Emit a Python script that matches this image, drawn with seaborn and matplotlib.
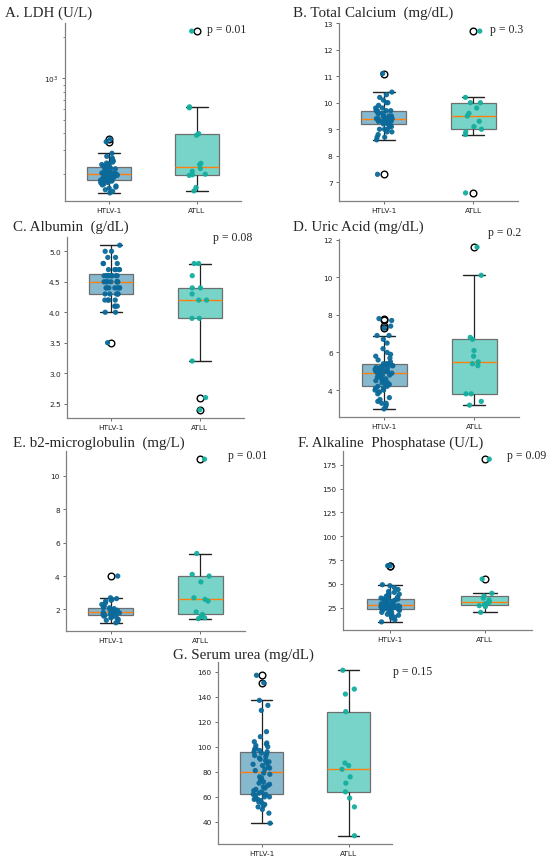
import numpy as np
import pandas as pd
import matplotlib
matplotlib.use('Agg')
import matplotlib.pyplot as plt
import seaborn as sns

groups = ['HTLV-1', 'ATLL']

# A. LDH (U/L)
ldh_htlv = [146, 150, 154, 158, 161, 164, 167, 170, 172, 174, 176, 177, 178, 179, 180, 181, 181,
            182, 183, 184, 185, 186, 187, 188, 189, 190, 192, 193, 194, 196, 197, 199,
            201, 202, 203, 204, 205, 206, 207, 208, 210, 211, 213, 215, 217, 219, 221, 224,
            224, 226, 228, 230, 232, 235, 238, 241, 245, 250, 256, 262, 270, 284, 345, 360]
ldh_atll = [151, 160, 196, 198, 200, 210, 220, 235, 240, 385, 395, 610, 620, 2215]

# B. Total Calcium (mg/dL)
ca_htlv = [7.3, 8.6, 8.7, 8.7, 8.8, 8.9, 8.9, 9.0, 9.0, 9.0, 9.1, 9.1, 9.2, 9.2, 9.2, 9.2,
           9.3, 9.3, 9.3, 9.3, 9.3, 9.3, 9.4, 9.4, 9.4, 9.4, 9.4, 9.4, 9.4,
           9.5, 9.5, 9.5, 9.5, 9.6, 9.6, 9.6, 9.7, 9.7, 9.7, 9.7,
           9.8, 9.8, 9.9, 10.0, 10.0, 10.1, 10.2, 10.3, 10.4, 11.1]
ca_atll = [6.6, 8.8, 8.9, 9.0, 9.1, 9.3, 9.5, 9.6, 9.8, 10.0, 10.0, 10.2, 12.7]

# C. Albumin (g/dL)
alb_htlv = [3.5, 4.0, 4.0, 4.1, 4.1, 4.1, 4.2, 4.2, 4.2, 4.2, 4.3, 4.3, 4.3,
            4.3, 4.3, 4.4, 4.4, 4.4, 4.4, 4.4, 4.4, 4.4, 4.5, 4.5, 4.5, 4.5,
            4.5, 4.5, 4.5, 4.5, 4.6, 4.6, 4.6, 4.6, 4.6, 4.6, 4.6, 4.6, 4.6,
            4.7, 4.7, 4.7, 4.7, 4.7, 4.8, 4.8, 4.8, 4.9, 4.9, 5.0, 5.0, 5.1]
alb_atll = [2.4, 2.6, 3.2, 3.9, 3.9, 4.2, 4.2, 4.3, 4.4, 4.4, 4.6, 4.8, 4.8]

# D. Uric Acid (mg/dL)
uric_htlv = [3.0, 3.1, 3.2, 3.3, 3.3, 3.4, 3.5, 3.6, 3.8, 3.9, 3.9, 4.0, 4.0, 4.1, 4.1, 4.2, 4.2,
             4.3, 4.3, 4.4, 4.4, 4.5, 4.5, 4.6, 4.6, 4.7, 4.7, 4.8, 4.8, 4.8, 4.9, 4.9,
             4.9, 5.0, 5.0, 5.0, 5.0, 5.1, 5.1, 5.1, 5.2, 5.2, 5.2, 5.3, 5.3, 5.3, 5.4, 5.4,
             5.4, 5.5, 5.6, 5.7, 5.8, 5.9, 6.0, 6.2, 6.5, 6.7, 6.9, 6.9, 7.3, 7.4, 7.7, 7.8]
uric_atll = [3.2, 3.4, 3.8, 3.8, 5.3, 5.4, 5.5, 5.8, 6.1, 6.7, 6.8, 10.1, 11.6]

# E. b2-microglobulin (mg/L)
b2m_htlv = [1.2, 1.3, 1.35, 1.4, 1.45, 1.5, 1.55, 1.6, 1.6, 1.65, 1.65, 1.7, 1.7, 1.72,
            1.75, 1.78, 1.8, 1.8, 1.82, 1.83, 1.85, 1.88, 1.9, 1.92, 1.95, 2.0, 2.0,
            2.05, 2.1, 2.1, 2.15, 2.2, 2.3, 2.4, 2.5, 2.55, 2.6, 2.65, 2.7, 4.0]
b2m_atll = [1.45, 1.5, 1.6, 1.7, 1.85, 2.5, 2.6, 2.7, 3.65, 4.0, 4.1, 5.35, 11.0]

# F. Alkaline Phosphatase (U/L)
alp_htlv = [10, 12, 14, 15, 16, 17, 18, 19, 20, 21, 22, 22, 23, 23, 24, 24,
            24, 25, 25, 25, 25, 26, 26, 26, 26, 27, 27, 27, 27, 27,
            28, 28, 28, 29, 29, 30, 30, 31, 31, 32, 32, 33, 33, 34, 34,
            34, 35, 36, 37, 38, 39, 40, 41, 42, 44, 46, 48, 49, 69, 69]
alp_atll = [20, 26, 27, 28, 29, 30, 31, 33, 35, 37, 40, 55, 181]

# G. Serum urea (mg/dL)
urea_htlv = [39, 47, 50, 52, 53, 54, 55, 56, 57, 58, 58, 59, 60, 60, 61, 62, 62,
             63, 64, 65, 66, 67, 68, 69, 70, 71, 72, 74, 75, 76, 78, 79,
             81, 82, 83, 84, 85, 86, 87, 88, 89, 90, 91, 92, 93, 94, 95, 96,
             96, 97, 98, 99, 100, 101, 102, 103, 104, 108, 112, 129, 133, 137, 151, 157]
urea_atll = [29, 52, 59, 64, 71, 76, 82, 85, 87, 128, 142, 146, 161]

titles = ['A. LDH (U/L)', 'B. Total Calcium  (mg/dL)', 'C. Albumin  (g/dL)',
          'D. Uric Acid (mg/dL)', 'E. b2-microglobulin  (mg/L)',
          'F. Alkaline  Phosphatase (U/L)', 'G. Serum urea (mg/dL)']
p_values = ['p = 0.01', 'p = 0.3', 'p = 0.08', 'p = 0.2', 'p = 0.01', 'p = 0.09', 'p = 0.15']

box_colors = {'HTLV-1': '#86b8ce', 'ATLL': '#78d4c8'}
point_colors = {'HTLV-1': '#0b6a9a', 'ATLL': '#14ae9f'}

W, H = 550, 862
# panel layout in pixels: axes (left, top, right, bottom), title xy, p-value xy
panels = [
    ((65, 24, 241, 202), (5, 13), (207, 30)),
    ((339, 24, 518, 202), (293, 13), (490, 30)),
    ((67, 238, 244, 419), (13, 227), (213, 238)),
    ((339, 240, 519, 418), (293, 227), (488, 233)),
    ((66, 452, 245, 632), (13, 443), (228, 456)),
    ((343, 452, 532, 631), (298, 443), (507, 456)),
    ((218, 663, 392, 845), (173, 655), (393, 672)),
]

datasets = [(ldh_htlv, ldh_atll), (ca_htlv, ca_atll), (alb_htlv, alb_atll),
            (uric_htlv, uric_atll), (b2m_htlv, b2m_atll), (alp_htlv, alp_atll),
            (urea_htlv, urea_atll)]


def main():
    np.random.seed(3)
    sns.set_style('ticks')
    fig = plt.figure(figsize=(W / 100, H / 100), dpi=100)

    for i, ((htlv, atll), (rect, tpos, ppos)) in enumerate(zip(datasets, panels)):
        l, t, r, b = rect
        ax = fig.add_axes([l / W, 1 - b / H, (r - l) / W, (b - t) / H])
        df = pd.DataFrame({
            'group': ['HTLV-1'] * len(htlv) + ['ATLL'] * len(atll),
            'value': list(htlv) + list(atll),
        })
        sns.boxplot(data=df, x='group', y='value', hue='group', order=groups,
                    palette=box_colors, saturation=1, width=0.5, linewidth=0.9,
                    linecolor='#6e6e6e', legend=False, ax=ax,
                    medianprops=dict(color='#ff7f0e', linewidth=1.0),
                    whiskerprops=dict(color='#222222', linewidth=0.9),
                    capprops=dict(color='#222222', linewidth=1.0),
                    flierprops=dict(marker='o', markersize=4.8, markerfacecolor='none',
                                    markeredgecolor='black', markeredgewidth=1.0))
        sns.stripplot(data=df, x='group', y='value', hue='group', order=groups,
                      palette=point_colors, size=3.8, jitter=0.1, linewidth=0,
                      alpha=0.95, legend=False, ax=ax)
        if i == 0:
            ax.set_yscale('log')
        ax.set_xlim(-0.5, 1.5)
        ax.set_xlabel('')
        ax.set_ylabel('')
        sns.despine(ax=ax)
        for side in ['left', 'bottom']:
            ax.spines[side].set_color('#808080')
            ax.spines[side].set_linewidth(0.9)
        ax.tick_params(axis='both', labelsize=5.3, length=2.5, width=0.6,
                       color='#555555', labelcolor='#222222', pad=2)
        ax.tick_params(axis='y', which='minor', length=1.6, width=0.5, color='#555555')

        fig.text(tpos[0] / W, 1 - tpos[1] / H, titles[i], family='Liberation Serif',
                 fontsize=10.8, ha='left', va='center')
        fig.text(ppos[0] / W, 1 - ppos[1] / H, p_values[i], family='Liberation Serif',
                 fontsize=8.5, ha='left', va='center')

    fig.savefig('out.png', dpi=100)


if __name__ == "__main__":
    main()
